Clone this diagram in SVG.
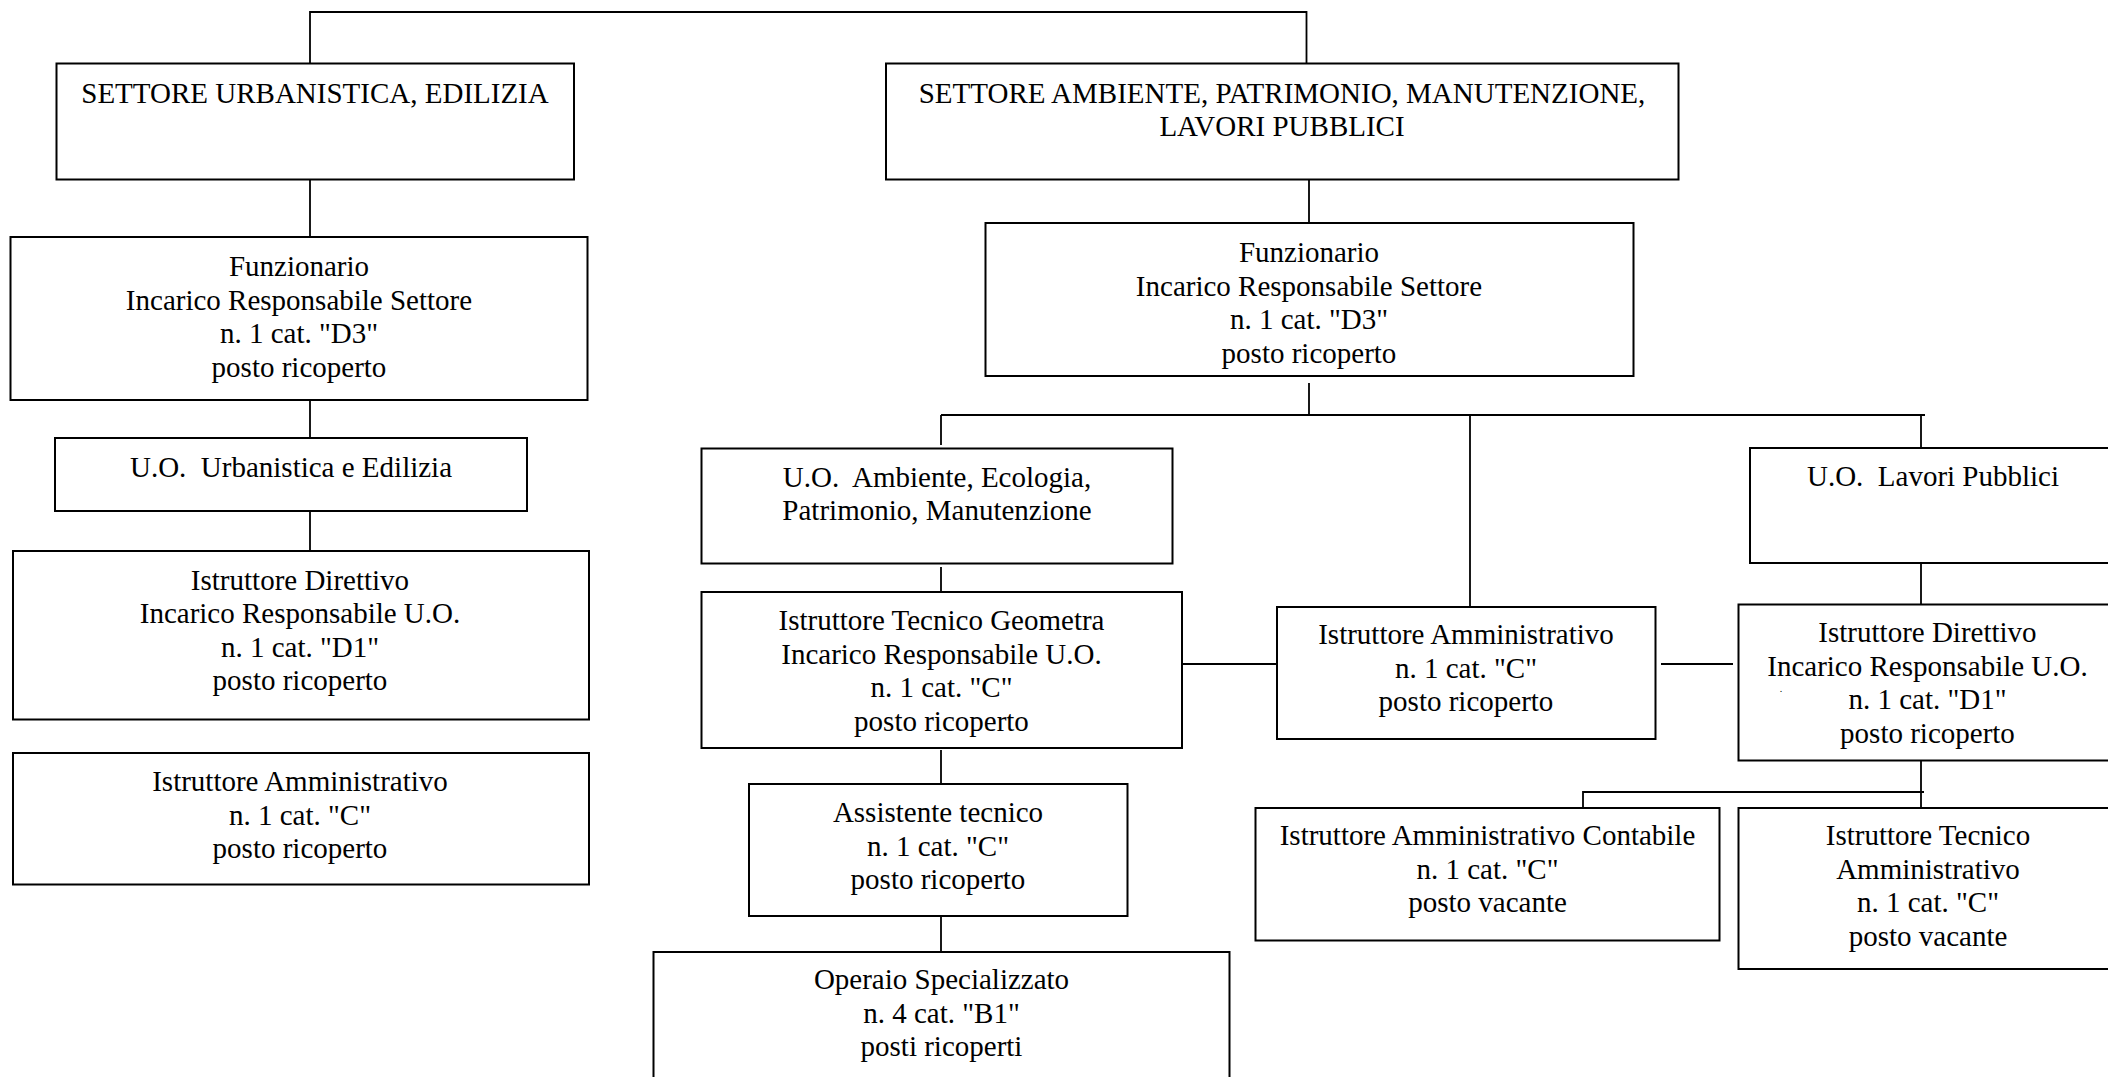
<svg xmlns="http://www.w3.org/2000/svg" width="2108" height="1077" viewBox="0 0 2108 1077">
<style>
.box{fill:#fff;stroke:#000;stroke-width:2}
.con{fill:none;stroke:#000;stroke-width:1.8}
text{font-family:"Liberation Serif","Times New Roman",serif;font-size:29px;fill:#000;text-anchor:middle;white-space:pre}
</style>
<rect width="2108" height="1077" fill="#fff"/>
<g id="connectors">
<path class="con" d="M310,63 V12 H1306.5 V63"/>
<path class="con" d="M310,179 V237"/>
<path class="con" d="M310,400 V438"/>
<path class="con" d="M310,511 V551"/>
<path class="con" d="M1309,179 V223"/>
<path class="con" d="M1309,383 V415"/>
<path class="con" d="M941,415 H1925"/>
<path class="con" d="M941,415 V445"/>
<path class="con" d="M1470,415 V607"/>
<path class="con" d="M1921,415 V448"/>
<path class="con" d="M941,567 V592"/>
<path class="con" d="M1182,664 H1277"/>
<path class="con" d="M1661,664 H1733"/>
<path class="con" d="M1921,563 V605"/>
<path class="con" d="M941,750 V784"/>
<path class="con" d="M941,916 V952"/>
<path class="con" d="M1921,760 V808 M1583,808 V792 H1924"/>
</g>
<g id="settore-urbanistica">
<rect class="box" x="56.5" y="63.5" width="517.5" height="116"/>
<text x="315" y="103">SETTORE URBANISTICA, EDILIZIA</text>
</g>
<g id="funzionario-urb">
<rect class="box" x="10.5" y="237" width="577" height="163"/>
<text x="299" y="276">Funzionario</text>
<text x="299" y="309.5">Incarico Responsabile Settore</text>
<text x="299" y="343">n. 1 cat. "D3"</text>
<text x="299" y="376.5">posto ricoperto</text>
</g>
<g id="uo-urbanistica">
<rect class="box" x="55" y="438" width="472" height="73"/>
<text x="291" y="477">U.O.  Urbanistica e Edilizia</text>
</g>
<g id="istruttore-direttivo-urb">
<rect class="box" x="13" y="551" width="576" height="168.5"/>
<text x="300" y="589.5">Istruttore Direttivo</text>
<text x="300" y="623">Incarico Responsabile U.O.</text>
<text x="300" y="656.5">n. 1 cat. "D1"</text>
<text x="300" y="690">posto ricoperto</text>
</g>
<g id="istruttore-amm-urb">
<rect class="box" x="13" y="753" width="576" height="131.5"/>
<text x="300" y="791">Istruttore Amministrativo</text>
<text x="300" y="824.5">n. 1 cat. "C"</text>
<text x="300" y="858">posto ricoperto</text>
</g>
<g id="settore-ambiente">
<rect class="box" x="886" y="63.5" width="792.5" height="116"/>
<text x="1282" y="103">SETTORE AMBIENTE, PATRIMONIO, MANUTENZIONE,</text>
<text x="1282" y="136">LAVORI PUBBLICI</text>
</g>
<g id="funzionario-amb">
<rect class="box" x="985.5" y="223" width="648" height="153"/>
<text x="1309" y="262">Funzionario</text>
<text x="1309" y="295.5">Incarico Responsabile Settore</text>
<text x="1309" y="329">n. 1 cat. "D3"</text>
<text x="1309" y="362.5">posto ricoperto</text>
</g>
<g id="uo-ambiente">
<rect class="box" x="701.5" y="448.5" width="471" height="115"/>
<text x="937" y="486.5">U.O.  Ambiente, Ecologia,</text>
<text x="937" y="520">Patrimonio, Manutenzione</text>
</g>
<g id="istruttore-tecnico-geometra">
<rect class="box" x="701.5" y="592" width="480.5" height="156"/>
<text x="941.5" y="630">Istruttore Tecnico Geometra</text>
<text x="941.5" y="663.5">Incarico Responsabile U.O.</text>
<text x="941.5" y="697">n. 1 cat. "C"</text>
<text x="941.5" y="730.5">posto ricoperto</text>
</g>
<g id="assistente-tecnico">
<rect class="box" x="749" y="784" width="378.5" height="132"/>
<text x="938" y="822">Assistente tecnico</text>
<text x="938" y="855.5">n. 1 cat. "C"</text>
<text x="938" y="889">posto ricoperto</text>
</g>
<g id="operaio-specializzato">
<rect class="box" x="653.5" y="952" width="576" height="140"/>
<text x="941.5" y="989">Operaio Specializzato</text>
<text x="941.5" y="1022.5">n. 4 cat. "B1"</text>
<text x="941.5" y="1056">posti ricoperti</text>
</g>
<g id="istruttore-amm-amb">
<rect class="box" x="1277" y="607" width="378.5" height="132"/>
<text x="1466" y="644">Istruttore Amministrativo</text>
<text x="1466" y="677.5">n. 1 cat. "C"</text>
<text x="1466" y="711">posto ricoperto</text>
</g>
<g id="uo-lavori-pubblici">
<rect class="box" x="1750" y="448" width="367" height="115"/>
<text x="1933" y="486">U.O.  Lavori Pubblici</text>
</g>
<g id="istruttore-direttivo-lp">
<rect class="box" x="1738.5" y="604.5" width="378" height="156"/>
<text x="1927.5" y="642">Istruttore Direttivo</text>
<text x="1927.5" y="675.5">Incarico Responsabile U.O.</text>
<text x="1781" y="692" style="font-size:10px">.</text>
<text x="1927.5" y="709">n. 1 cat. "D1"</text>
<text x="1927.5" y="742.5">posto ricoperto</text>
</g>
<g id="istruttore-amm-contabile">
<rect class="box" x="1255.5" y="808" width="464" height="132.5"/>
<text x="1487.5" y="845">Istruttore Amministrativo Contabile</text>
<text x="1487.5" y="878.5">n. 1 cat. "C"</text>
<text x="1487.5" y="912">posto vacante</text>
</g>
<g id="istruttore-tecnico-amm">
<rect class="box" x="1738.5" y="808" width="378" height="161"/>
<text x="1928" y="845">Istruttore Tecnico</text>
<text x="1928" y="878.5">Amministrativo</text>
<text x="1928" y="912">n. 1 cat. "C"</text>
<text x="1928" y="945.5">posto vacante</text>
</g>
</svg>
